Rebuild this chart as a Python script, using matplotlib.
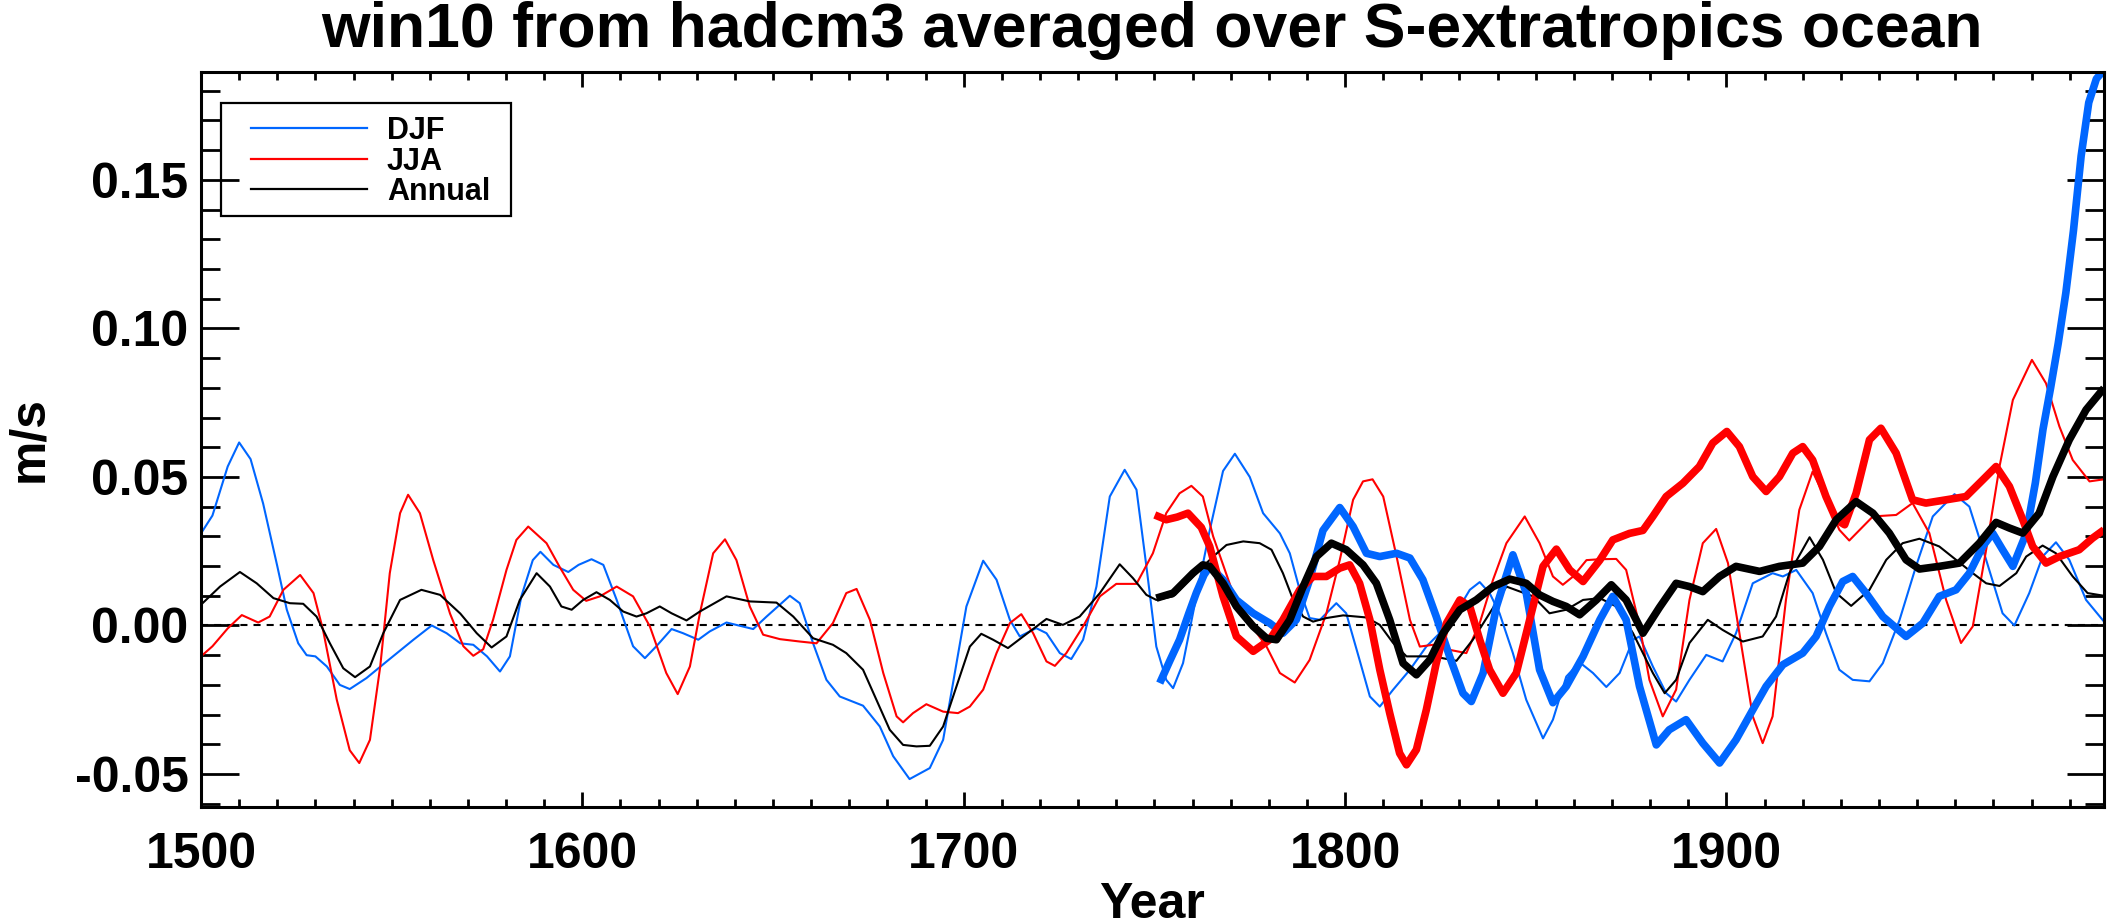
import matplotlib
matplotlib.use("Agg")
import matplotlib.pyplot as plt
from matplotlib.patches import Rectangle
from matplotlib.ticker import MultipleLocator, FormatStrFormatter

plt.rcParams['font.family'] = ['Liberation Sans', 'DejaVu Sans']
plt.rcParams['font.weight'] = 'bold'
plt.rcParams['axes.unicode_minus'] = False

# thin curves, 1500-1999
djf_yr = [1500, 1503, 1507, 1510, 1513, 1516.3, 1520, 1522.5, 1525.5, 1527.7, 1530, 1533, 1536.4, 1539,
          1543.4, 1548.7, 1555.7, 1560.5, 1564.4, 1568, 1571.4, 1575, 1578.4, 1581, 1584, 1587, 1589,
          1592.4, 1596.3, 1599, 1602.4, 1605.5, 1609, 1613.3, 1616.4, 1619.4, 1623.4, 1626.4, 1630.4,
          1633.4, 1637.8, 1644.8, 1648.3, 1654.4, 1657, 1660.5, 1664, 1667.5, 1673.6, 1678, 1681.5,
          1685.8, 1691.1, 1694.6, 1698.1, 1700.7, 1705.1, 1708.6, 1712.1, 1714.7, 1719, 1721.7, 1725.2,
          1728.2, 1731.3, 1734.8, 1738.3, 1742.2, 1745.3, 1747.9, 1750.5, 1753.1, 1754.9, 1757.5, 1761,
          1764.5, 1768, 1771.1, 1775, 1778.5, 1782.9, 1785.5, 1788.1, 1790.7, 1793.4, 1797.7, 1800.3,
          1803.8, 1806.5, 1809.1, 1812.6, 1817, 1821.3, 1824.8, 1830.1, 1832.7, 1835.3, 1837.9, 1840.5,
          1844, 1847.5, 1851.9, 1854.5, 1858, 1861.5, 1865, 1868.5, 1872, 1875.5, 1877.2, 1880.7,
          1884.2, 1886.8, 1890.3, 1894.7, 1899, 1902.5, 1906.9, 1912.1, 1914.8, 1918.3, 1922.6, 1926.1,
          1929.6, 1933.1, 1937.5, 1941, 1945.4, 1949.7, 1954.1, 1959.8, 1963.7, 1968.1, 1972.4, 1975.5,
          1979.4, 1982.9, 1986.4, 1989.9, 1994.3, 1999]
djf_val = [0.031, 0.037, 0.0535, 0.0616, 0.056, 0.041, 0.020, 0.0053, -0.006, -0.010, -0.0104, -0.0138,
           -0.020, -0.0214, -0.0177, -0.0121, -0.0048, 0.000, -0.0026, -0.006, -0.0065, -0.0104, -0.0155,
           -0.0104, 0.0098, 0.022, 0.0248, 0.0204, 0.018, 0.0204, 0.0223, 0.0204, 0.0086, -0.007, -0.011,
           -0.007, -0.0012, -0.0026, -0.0048, -0.002, 0.001, -0.0012, 0.003, 0.010, 0.0075, -0.006,
           -0.0183, -0.0239, -0.027, -0.034, -0.044, -0.0517, -0.048, -0.0385, -0.0127, 0.0064, 0.0218,
           0.0154, 0.0019, -0.0037, -0.0009, -0.0026, -0.0093, -0.0113, -0.0048, 0.0131, 0.0434, 0.0524,
           0.0457, 0.0199, -0.0071, -0.0183, -0.0211, -0.0127, 0.0098, 0.032, 0.052, 0.0578, 0.050,
           0.0378, 0.031, 0.0243, 0.012, 0.0025, 0.0019, 0.0075, 0.0041, -0.0116, -0.0239, -0.0273,
           -0.0216, -0.0149, -0.0071, -0.0026, 0.0064, 0.012, 0.0146, 0.0109, 0.0041, -0.0093, -0.025,
           -0.038, -0.0317, -0.0172, -0.0124, -0.016, -0.0207, -0.016, -0.0048, -0.0037, -0.0138,
           -0.0228, -0.0256, -0.0183, -0.0099, -0.0121, -0.0026, 0.0142, 0.0176, 0.0165, 0.0187, 0.0109,
           -0.0026, -0.0149, -0.0183, -0.0188, -0.0127, 0.0019, 0.0199, 0.0367, 0.0442, 0.040, 0.0221,
           0.0041, 0.000, 0.0109, 0.0232, 0.028, 0.0221, 0.0086, 0.0013]

jja_yr = [1500, 1503, 1507, 1510.7, 1515, 1518, 1521.6, 1526, 1529.5, 1532, 1535.6, 1539, 1541.5, 1544.3,
          1547, 1549.5, 1552.2, 1554.3, 1557.4, 1560.9, 1565.3, 1568.8, 1571.4, 1574, 1576.6, 1580.1,
          1582.7, 1585.8, 1590.6, 1594, 1597.6, 1601, 1604.6, 1609, 1613.3, 1617.7, 1622, 1625, 1628.2,
          1630.8, 1634.3, 1637.4, 1640.4, 1643.9, 1647.4, 1651.8, 1657, 1661.4, 1665.7, 1669.2, 1671.9,
          1675.4, 1678.9, 1682.4, 1684.1, 1686.7, 1690.2, 1694.6, 1698.5, 1701.6, 1705.1, 1708.6, 1712.1,
          1715.1, 1718.2, 1721.7, 1723.9, 1726.9, 1731.3, 1735.7, 1740, 1745.3, 1749.6, 1753.1, 1756.6,
          1759.7, 1762.7, 1765.4, 1770.6, 1775, 1779.4, 1782.9, 1786.8, 1790.7, 1795.1, 1798.6, 1802.1,
          1804.7, 1807.2, 1810, 1813.5, 1817, 1819.6, 1823.1, 1827.4, 1831.8, 1835.3, 1838.8, 1842.3,
          1847.1, 1851, 1854.5, 1857.1, 1859.8, 1863.3, 1866.8, 1871.1, 1873.7, 1877.2, 1879.8, 1883.3,
          1886.8, 1890.3, 1893.8, 1897.3, 1900.4, 1903.4, 1906.9, 1909.5, 1912.1, 1915.6, 1919.1, 1922.6,
          1926.1, 1929.6, 1932.2, 1938.4, 1944.5, 1948.8, 1953.2, 1957.6, 1961.5, 1964.6, 1968.1, 1971.6,
          1975.1, 1980.1, 1983.8, 1987.3, 1990.8, 1995.2, 1999]
jja_val = [-0.0104, -0.007, -0.001, 0.0035, 0.001, 0.003, 0.012, 0.017, 0.0109, -0.0015, -0.025, -0.042,
           -0.0463, -0.0385, -0.0138, 0.0176, 0.0378, 0.044, 0.0378, 0.022, 0.004, -0.007, -0.0102, -0.008,
           0.002, 0.0187, 0.0288, 0.0333, 0.0277, 0.0198, 0.012, 0.0083, 0.0098, 0.0131, 0.0098, -0.0003,
           -0.016, -0.0231, -0.0138, 0.004, 0.0243, 0.029, 0.022, 0.0064, -0.0031, -0.0046, -0.0054,
           -0.006, 0.0008, 0.0109, 0.0123, 0.0019, -0.016, -0.0306, -0.0326, -0.0295, -0.0265, -0.029,
           -0.0295, -0.0273, -0.0216, -0.0093, 0.0008, 0.0038, -0.0026, -0.0121, -0.0136, -0.0093,
           -0.0003, 0.0098, 0.014, 0.014, 0.0243, 0.0378, 0.0445, 0.047, 0.0434, 0.030, 0.0109, 0.0008,
           -0.0071, -0.016, -0.0192, -0.0116, 0.0041, 0.022, 0.0423, 0.0485, 0.0492, 0.0434, 0.0232,
           0.0019, -0.0071, -0.0065, -0.0082, -0.0093, 0.0008, 0.0154, 0.0277, 0.0367, 0.0277, 0.0165,
           0.0137, 0.0165, 0.022, 0.0223, 0.0224, 0.0187, 0.000, -0.0183, -0.0306, -0.0216, 0.0086,
           0.0277, 0.0325, 0.021, -0.0026, -0.0306, -0.0396, -0.0306, 0.0086, 0.0389, 0.0518, 0.0423,
           0.0322, 0.0286, 0.0367, 0.0372, 0.0412, 0.0311, 0.0086, -0.0059, -0.0003, 0.0255, 0.0535,
           0.0759, 0.0894, 0.0815, 0.067, 0.0557, 0.0485, 0.0492]

ann_yr = [1500, 1505, 1510.2, 1514.6, 1519, 1523.3, 1526.8, 1530.3, 1533.8, 1537.3, 1540.4, 1544.3, 1547.8,
          1552.2, 1557.8, 1562.7, 1568, 1572.3, 1576.2, 1580.1, 1583.6, 1588, 1591.5, 1594.5, 1597.2,
          1600.2, 1603.7, 1607.2, 1610.7, 1614.2, 1616.8, 1620.3, 1623.4, 1627.3, 1630.8, 1637.8, 1643.9,
          1650.9, 1655.3, 1660.5, 1665.7, 1669.2, 1673.6, 1677.1, 1680.6, 1684.1, 1687.6, 1691.1, 1694.6,
          1698.1, 1701.6, 1704.6, 1707.7, 1711.6, 1715.6, 1721.7, 1726, 1730.4, 1735.7, 1740.9, 1744.4,
          1747.9, 1750.5, 1754.9, 1760.1, 1765.4, 1768.9, 1773.3, 1777.6, 1780.7, 1783.7, 1786.4, 1789,
          1791.6, 1795.1, 1799.5, 1805.6, 1809.1, 1812.6, 1816.1, 1823.1, 1829.2, 1833.5, 1837.9, 1842.3,
          1849.3, 1853.6, 1858, 1862.4, 1866.8, 1871.1, 1875.5, 1880.7, 1883.8, 1886.8, 1890.3, 1895.1,
          1899, 1904.3, 1909.5, 1913, 1916.5, 1921.8, 1925.3, 1928.8, 1932.7, 1937.5, 1941.9, 1946.2,
          1950.6, 1955.8, 1960.2, 1964.6, 1968.1, 1971.6, 1976, 1978.6, 1982.9, 1986.4, 1990.8, 1994.7,
          1999]
ann_val = [0.007, 0.0131, 0.018, 0.0142, 0.0092, 0.0075, 0.0073, 0.003, -0.006, -0.0144, -0.0174, -0.0138,
           -0.0026, 0.0086, 0.012, 0.0103, 0.004, -0.0026, -0.0074, -0.0037, 0.0086, 0.0176, 0.0131,
           0.0064, 0.0053, 0.0086, 0.0112, 0.0086, 0.0047, 0.003, 0.0041, 0.0064, 0.0041, 0.0017, 0.0047,
           0.0098, 0.0081, 0.0077, 0.003, -0.0043, -0.0065, -0.0093, -0.0149, -0.025, -0.0351, -0.0402,
           -0.0407, -0.0405, -0.034, -0.0205, -0.0071, -0.0028, -0.0048, -0.0076, -0.0037, 0.0022, 0.0002,
           0.003, 0.0109, 0.0206, 0.0159, 0.0103, 0.0086, 0.0098, 0.0165, 0.0232, 0.0271, 0.0283, 0.0277,
           0.0255, 0.0176, 0.0086, 0.003, 0.0013, 0.0025, 0.0034, 0.0027, 0.0002, -0.0059, -0.0104,
           -0.0104, -0.0119, -0.0048, 0.0041, 0.0131, 0.0098, 0.0041, 0.0053, 0.0086, 0.0092, 0.0064,
           -0.0026, -0.016, -0.0228, -0.0183, -0.0059, 0.0019, -0.0015, -0.0054, -0.0037, 0.003, 0.0176,
           0.0297, 0.0221, 0.0109, 0.0066, 0.012, 0.0221, 0.0277, 0.0292, 0.0266, 0.0221, 0.0176, 0.0142,
           0.0133, 0.0176, 0.0232, 0.0269, 0.0243, 0.0165, 0.0109, 0.010]

# thick curves, 1750-1999
djf_t_yr = [1751.4, 1754, 1756.6, 1759, 1761, 1763, 1764.5, 1768, 1771.5, 1775.9, 1780.2, 1783.7, 1787.2,
            1790.7, 1794.2, 1798.6, 1802.1, 1805.6, 1809.1, 1813.5, 1817, 1820.4, 1823.9, 1827.4, 1830.9,
            1833.1, 1836.2, 1839.7, 1844, 1847.5, 1851, 1854.5, 1858, 1862.4, 1866.8, 1870.2, 1873.7,
            1877.2, 1881.6, 1885, 1889.4, 1893.8, 1898.2, 1902.5, 1906.9, 1910.4, 1914.8, 1920, 1923.5,
            1927, 1930.5, 1933.1, 1936.6, 1941, 1947.1, 1951.5, 1955.8, 1960.2, 1963.7, 1967.2, 1969.8,
            1972.4, 1975.1, 1978.6, 1981, 1983, 1985, 1987, 1989, 1991, 1993, 1995, 1997, 1999]
djf_t_val = [-0.0194, -0.012, -0.0048, 0.004, 0.011, 0.017, 0.0199, 0.0154, 0.0086, 0.0041, 0.0008,
             -0.0026, 0.0019, 0.0154, 0.032, 0.0397, 0.0333, 0.0243, 0.0232, 0.0243, 0.0227, 0.0154, 0.003,
             -0.0104, -0.0228, -0.0256, -0.016, 0.0064, 0.0238, 0.0109, -0.0149, -0.026, -0.0205, -0.0104,
             0.0019, 0.0098, 0.0019, -0.0205, -0.0402, -0.0351, -0.0317, -0.0396, -0.0463, -0.0385,
             -0.0284, -0.0205, -0.0132, -0.0093, -0.0037, 0.0064, 0.0148, 0.0165, 0.0109, 0.003, -0.0037,
             0.0008, 0.0098, 0.012, 0.0176, 0.0266, 0.0311, 0.0255, 0.0199, 0.031, 0.048, 0.066, 0.080,
             0.095, 0.112, 0.133, 0.158, 0.176, 0.184, 0.187]

jja_t_yr = [1750.1, 1753.1, 1756, 1758.8, 1762.3, 1764.5, 1768, 1771.5, 1775.9, 1780.2, 1783.7, 1788.1,
            1791.6, 1795.1, 1798.6, 1801.2, 1803.8, 1806.5, 1809.1, 1811.7, 1814.3, 1816.1, 1818.7,
            1821.3, 1823.9, 1826.6, 1830.1, 1832.7, 1835.3, 1837.9, 1841.4, 1844.9, 1848.4, 1851.9,
            1855.4, 1858.9, 1862.4, 1866.8, 1870.2, 1874.6, 1878.1, 1880.7, 1884.2, 1888.6, 1892.9,
            1896.4, 1900.1, 1903.4, 1906.9, 1910.4, 1913.9, 1917.4, 1920, 1922.6, 1926.1, 1928.8, 1931,
            1934, 1937.5, 1940.5, 1944.5, 1948.8, 1952.3, 1957.6, 1962.8, 1967.2, 1970.7, 1974.2, 1977.7,
            1980.3, 1983.8, 1987.3, 1992.5, 1996, 1999]
jja_t_val = [0.0372, 0.0356, 0.0365, 0.0378, 0.033, 0.0266, 0.0098, -0.0037, -0.0087, -0.0048, 0.0019,
             0.012, 0.0165, 0.0165, 0.0193, 0.0204, 0.0142, 0.0019, -0.0149, -0.0295, -0.043, -0.0469,
             -0.0418, -0.0284, -0.0127, 0.0008, 0.0086, 0.0064, -0.0048, -0.0149, -0.0228, -0.016, 0.0019,
             0.0199, 0.0257, 0.0187, 0.0148, 0.022, 0.0288, 0.031, 0.032, 0.0367, 0.0434, 0.0479, 0.0535,
             0.0614, 0.0653, 0.0602, 0.0501, 0.0451, 0.0501, 0.058, 0.0602, 0.0557, 0.0434, 0.0356, 0.0339,
             0.0445, 0.0625, 0.0664, 0.058, 0.0423, 0.0412, 0.0423, 0.0434, 0.049, 0.0535, 0.0468, 0.0356,
             0.0266, 0.021, 0.0232, 0.0255, 0.0294, 0.0322]

ann_t_yr = [1750.5, 1754.9, 1760.1, 1762.7, 1764.5, 1768, 1771.5, 1775.9, 1779.4, 1782, 1785.5, 1789,
            1792.5, 1796.4, 1800.3, 1804.7, 1808.2, 1811.7, 1815.2, 1818.7, 1822.2, 1825.7, 1830.1, 1834.4,
            1838.8, 1843.2, 1847.5, 1851, 1854.5, 1858, 1861.5, 1865.9, 1869.8, 1873.7, 1878.1, 1882.4,
            1886.8, 1890.3, 1893.8, 1898.2, 1902.5, 1908.7, 1913.9, 1920, 1924.4, 1928.8, 1934, 1938.4,
            1942.7, 1947.1, 1950.6, 1955.8, 1961.1, 1966.3, 1970.7, 1974.2, 1977.7, 1982, 1985.6, 1989.9,
            1994.3, 1999]
ann_t_val = [0.0092, 0.0109, 0.0176, 0.0204, 0.0199, 0.0142, 0.0064, -0.0003, -0.0043, -0.0048, 0.0019,
             0.0131, 0.0232, 0.0277, 0.0255, 0.0204, 0.0142, 0.0019, -0.0127, -0.0166, -0.0116, -0.0026,
             0.0053, 0.0086, 0.0131, 0.0156, 0.0142, 0.0103, 0.0081, 0.0064, 0.0036, 0.0086, 0.0137,
             0.0086, -0.0026, 0.006, 0.0142, 0.0131, 0.0114, 0.0165, 0.0199, 0.0182, 0.0199, 0.021, 0.0266,
             0.0356, 0.0417, 0.0378, 0.0311, 0.0221, 0.019, 0.0199, 0.021, 0.0277, 0.0347, 0.0328, 0.0311,
             0.0378, 0.0501, 0.0625, 0.0726, 0.0799]

labels = ['DJF', 'JJA', 'Annual']
blue = '#0066ff'
red = '#ff0000'
colours = [blue, red, 'black']

fig = plt.figure(figsize=(21.08, 9.24), dpi=100)
ax = fig.add_axes([201/2108, 1-807/924, 1903/2108, 735/924])

ax.axhline(0, color='black', lw=1.5, ls=(0, (3.4, 2.9)))

ax.plot(djf_yr, djf_val, color=blue, lw=1.5)
ax.plot(jja_yr, jja_val, color=red, lw=1.5)
ax.plot(ann_yr, ann_val, color='black', lw=1.5)

ax.plot(djf_t_yr, djf_t_val, color=blue, lw=5.5, solid_capstyle='butt')
ax.plot(jja_t_yr, jja_t_val, color=red, lw=5.5, solid_capstyle='butt')
ax.plot(ann_t_yr, ann_t_val, color='black', lw=5.5, solid_capstyle='butt')

ax.set_xlim(1500, 1999)
ax.set_ylim(-0.0611, 0.1863)

ax.xaxis.set_major_locator(MultipleLocator(100))
ax.xaxis.set_minor_locator(MultipleLocator(10))
ax.yaxis.set_major_locator(MultipleLocator(0.05))
ax.yaxis.set_minor_locator(MultipleLocator(0.01))
ax.yaxis.set_major_formatter(FormatStrFormatter('%.2f'))

ax.tick_params(which='both', direction='in', top=True, right=True, width=2, labelsize=36)
ax.tick_params(axis='x', which='major', length=11, pad=18)
ax.tick_params(axis='x', which='minor', length=5.5)
ax.tick_params(axis='y', which='major', length=27, pad=9)
ax.tick_params(axis='y', which='minor', length=13.5)
for s in ax.spines.values():
    s.set_linewidth(2.2)

fig.text(1152/2108, 1-47/924, 'win10 from hadcm3 averaged over S-extratropics ocean',
         ha='center', va='baseline', fontsize=45, fontweight='bold')
fig.text(1152/2108, 1-918/924, 'Year', ha='center', va='baseline', fontsize=36, fontweight='bold')
fig.text(29/2108, 1-439/924, 'm/s', ha='center', va='center', rotation=90, fontsize=36, fontweight='bold')

# legend box drawn by hand, in axes fraction (box 221..511 x 103..216 px)
def ax_x(px):
    return (px - 201) / 1903

def ax_y(py):
    return (807 - py) / 735

ax.add_patch(Rectangle((ax_x(221), ax_y(216)), ax_x(511) - ax_x(221), ax_y(103) - ax_y(216),
                       transform=ax.transAxes, fill=False, edgecolor='black', lw=1.6, zorder=5))
for i, (lab, col) in enumerate(zip(labels, colours)):
    row = 128 + i * 30.5
    ax.plot([ax_x(251), ax_x(367)], [ax_y(row), ax_y(row)], transform=ax.transAxes,
            color=col, lw=1.6, zorder=5)
    ax.text(ax_x(387), ax_y(row + 11), lab, transform=ax.transAxes, fontsize=22,
            fontweight='bold', va='baseline', ha='left', zorder=5)

fig.savefig('out.png', dpi=100)
